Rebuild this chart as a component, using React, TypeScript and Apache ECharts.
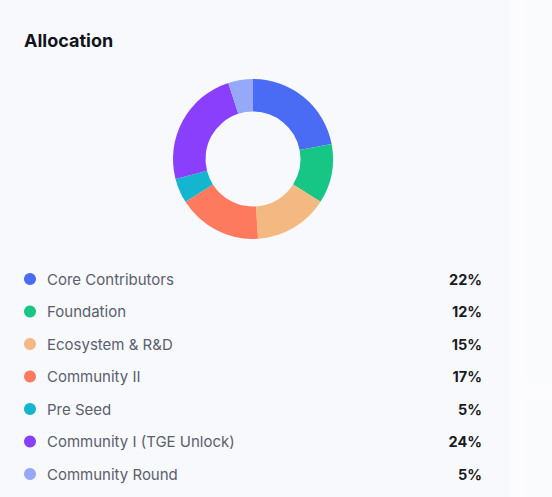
import { useEffect, useRef } from "react";
import * as echarts from "echarts";

const names = [
  "Core Contributors",
  "Foundation",
  "Ecosystem & R&D",
  "Community II",
  "Pre Seed",
  "Community I (TGE Unlock)",
  "Community Round",
];
const shares = [22, 12, 15, 17, 5, 24, 5];
const colors = ["#4a6cf4", "#17c684", "#f4b982", "#fe7a5e", "#14b6cf", "#8a3ffc", "#96a9f9"];

const FONT = "Inter, 'Noto Sans', sans-serif";

export default function App() {
  const ref = useRef<HTMLDivElement>(null);

  useEffect(() => {
    document.body.style.margin = "0";
    if (!ref.current) return;
    const chart = echarts.init(ref.current, undefined, { renderer: "svg" });
    const data = names.map((n, i) => ({ name: n, value: shares[i], itemStyle: { color: colors[i] } }));
    const pct: Record<string, number> = {};
    names.forEach((n, i) => (pct[n] = shares[i]));

    chart.setOption({
      animation: false,
      title: {
        text: "Allocation",
        left: 24,
        top: 31,
        padding: 0,
        textStyle: { fontFamily: FONT, fontSize: 18, fontWeight: 700, color: "#11141b" },
      },
      legend: {
        orient: "vertical",
        left: 24,
        top: 271.5,
        padding: 0,
        icon: "circle",
        itemWidth: 12,
        itemHeight: 12,
        itemGap: 17.5,
        selectedMode: false,
        formatter: (n: string) => `{n|${n}}{v|${pct[n]}%}`,
        textStyle: {
          fontFamily: FONT,
          rich: {
            n: { fontFamily: FONT, fontSize: 15, color: "#5a606c", width: 395, padding: [0, 0, 0, 6] },
            v: { fontFamily: FONT, fontSize: 14.5, fontWeight: 700, color: "#181b22", width: 40, align: "right" },
          },
        },
      },
      series: [
        {
          type: "pie",
          center: [253, 159],
          radius: [47.5, 80],
          startAngle: 90,
          clockwise: true,
          label: { show: false },
          labelLine: { show: false },
          emphasis: { disabled: true },
          data,
        },
      ],
    });
    return () => chart.dispose();
  }, []);

  return (
    <div style={{ position: "relative", width: 552, height: 497, background: "#fcfcfe", overflow: "hidden" }}>
      <div style={{ position: "absolute", left: 527, top: 0, width: 25, height: 378, background: "#fafbfd" }} />
      <div style={{ position: "absolute", left: 527, top: 400, width: 25, height: 97, background: "#fafbfd" }} />
      <div style={{ position: "absolute", left: 0, top: 0, width: 510, height: 497, background: "#f8f9fd" }} />
      <div ref={ref} style={{ position: "absolute", left: 0, top: 0, width: 552, height: 497 }} />
    </div>
  );
}
